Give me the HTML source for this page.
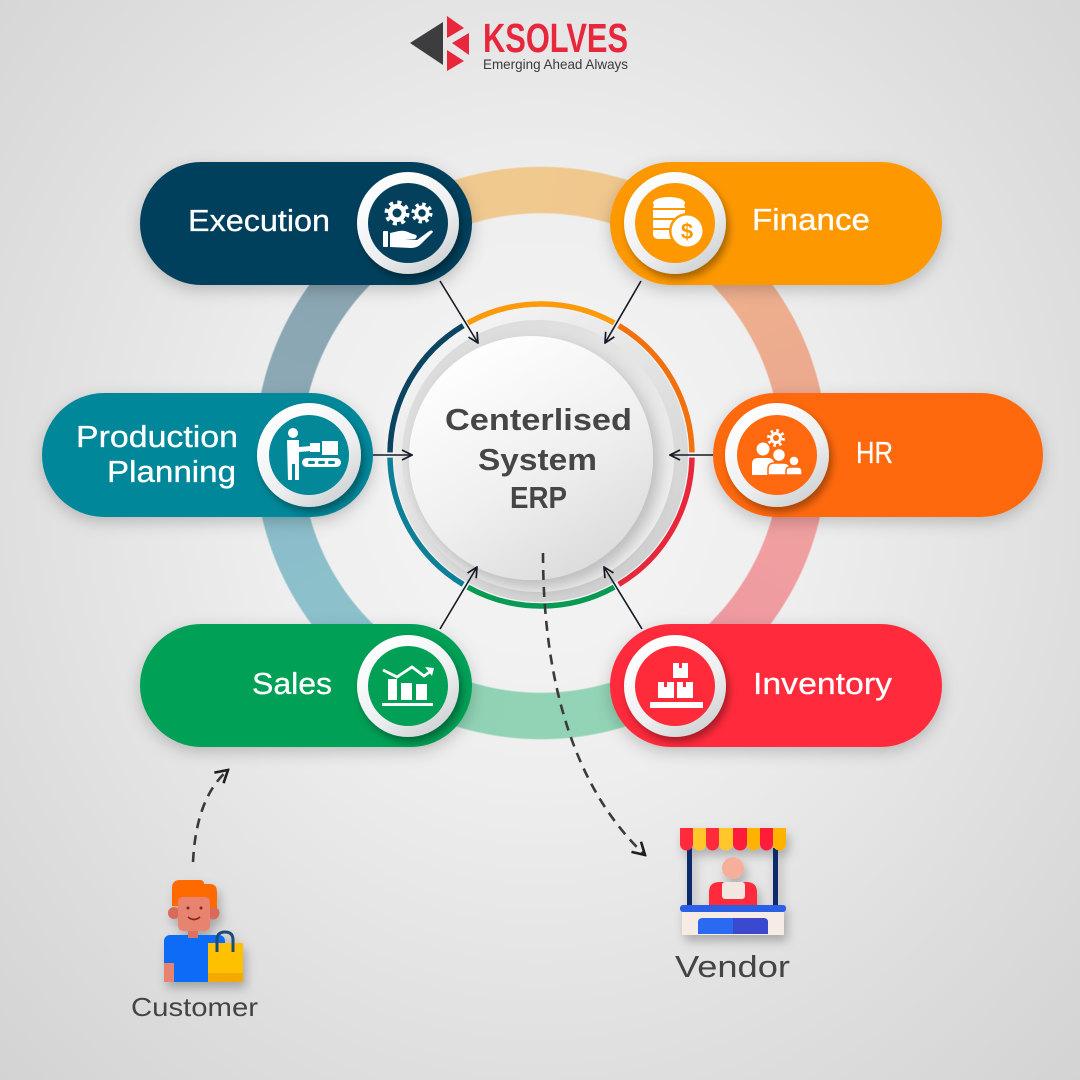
<!DOCTYPE html>
<html><head><meta charset="utf-8">
<style>
html,body{margin:0;padding:0;}
body{width:1080px;height:1080px;overflow:hidden;position:relative;
background:radial-gradient(ellipse at 50% 45%, #f6f6f6 0%, #eeeeee 35%, #dedede 72%, #d3d3d3 100%);
font-family:"Liberation Sans",sans-serif;}
#bigring{position:absolute;left:254px;top:166px;width:574px;height:574px;border-radius:50%;
background:conic-gradient(from 0deg, #f0c98f 0deg, #f0c68e 22deg, #eeb38e 40deg, #eca98e 75deg, #f0a09f 105deg, #ee98a0 140deg, #94d4b6 160deg, #90d2b4 200deg, #8cc3cd 220deg, #8bbdc9 255deg, #8ca8b5 285deg, #8aa4b1 320deg, #f0c98f 340deg);
-webkit-mask:radial-gradient(circle closest-side, transparent 239px, #000 240.5px, #000 285.5px, transparent 287px);
mask:radial-gradient(circle closest-side, transparent 239px, #000 240.5px, #000 285.5px, transparent 287px);}
svg{position:absolute;left:0;top:0;}
</style></head>
<body>
<div id="bigring"></div>
<svg width="1080" height="1080" viewBox="0 0 1080 1080" xmlns="http://www.w3.org/2000/svg">
<defs>
<filter id="psh" x="-20%" y="-30%" width="140%" height="170%"><feDropShadow dx="0" dy="5" stdDeviation="8" flood-color="#000" flood-opacity="0.2"/></filter>
<filter id="ish" x="-30%" y="-30%" width="170%" height="170%"><feDropShadow dx="3" dy="5" stdDeviation="4" flood-color="#000" flood-opacity="0.35"/></filter>
<filter id="dsh" x="-20%" y="-20%" width="150%" height="150%"><feDropShadow dx="6" dy="8" stdDeviation="8" flood-color="#000" flood-opacity="0.22"/></filter>
<filter id="fsh" x="-30%" y="-30%" width="170%" height="170%"><feDropShadow dx="3" dy="6" stdDeviation="5" flood-color="#000" flood-opacity="0.25"/></filter>
<linearGradient id="wring" x1="0.2" y1="0.1" x2="0.8" y2="0.95"><stop offset="0" stop-color="#ffffff"/><stop offset="0.6" stop-color="#eceeef"/><stop offset="1" stop-color="#cfd2d4"/></linearGradient>
<linearGradient id="halo" x1="0.2" y1="0.1" x2="0.8" y2="0.95"><stop offset="0" stop-color="#f3f3f3"/><stop offset="1" stop-color="#cfcfcf"/></linearGradient>
<linearGradient id="halo2" x1="0.2" y1="0.1" x2="0.8" y2="0.95"><stop offset="0" stop-color="#dcdcdc"/><stop offset="1" stop-color="#f2f2f2"/></linearGradient>
<linearGradient id="disc" x1="0.25" y1="0.1" x2="0.75" y2="0.95"><stop offset="0" stop-color="#fdfdfd"/><stop offset="0.55" stop-color="#efefef"/><stop offset="1" stop-color="#dcdcdc"/></linearGradient>
<marker id="ah" viewBox="0 0 12 12" refX="11" refY="6" markerWidth="12" markerHeight="12" orient="auto" markerUnits="userSpaceOnUse"><path d="M1,1 L11,6 L1,11" fill="none" stroke="#151b26" stroke-width="1.7"/></marker>
<marker id="dh" viewBox="0 0 16 16" refX="14" refY="8" markerWidth="16" markerHeight="16" orient="auto" markerUnits="userSpaceOnUse"><path d="M2,1 L14,8 L2,15" fill="none" stroke="#1e1e1e" stroke-width="2.6"/></marker>
</defs>

<!-- center halo & disc -->
<circle cx="541" cy="455" r="147" fill="url(#halo)"/>
<circle cx="538" cy="456" r="136" fill="url(#halo2)"/>
<circle cx="531" cy="458" r="122" fill="url(#disc)" filter="url(#dsh)"/>

<!-- colored ring arcs -->
<g fill="none" stroke-width="5.5">
<path d="M467.8,322.9 A151,151 0 0 1 614.2,322.9" stroke="#fb9a0a"/>
<path d="M618.8,325.6 A151,151 0 0 1 692,452.4" stroke="#f3700f"/>
<path d="M692,457.6 A151,151 0 0 1 618.8,584.4" stroke="#e8283a"/>
<path d="M614.2,587.1 A151,151 0 0 1 467.8,587.1" stroke="#089a52"/>
<path d="M463.2,584.4 A151,151 0 0 1 390,457.6" stroke="#0d7f96"/>
<path d="M390,452.4 A151,151 0 0 1 463.2,325.6" stroke="#0a4461"/>
</g>

<!-- center text -->
<g font-family="'Liberation Sans',sans-serif" font-weight="bold" font-size="31" fill="#464646">
<text x="445" y="430" textLength="187" lengthAdjust="spacingAndGlyphs">Centerlised</text>
<text x="478" y="470" textLength="119" lengthAdjust="spacingAndGlyphs">System</text>
<text x="510" y="508" textLength="57" lengthAdjust="spacingAndGlyphs">ERP</text>
</g>

<!-- black arrows -->
<g stroke="#151b26" stroke-width="1.6" fill="none" marker-end="url(#ah)">
<line x1="440" y1="281" x2="478" y2="343"/>
<line x1="641" y1="281" x2="605" y2="343"/>
<line x1="373" y1="455" x2="412" y2="455"/>
<line x1="713" y1="455" x2="670" y2="455"/>
<line x1="440" y1="629" x2="477" y2="567"/>
<line x1="642" y1="629" x2="604" y2="567"/>
</g>

<!-- dashed connectors -->
<g stroke="#3a3a3a" stroke-width="2.6" fill="none" stroke-dasharray="10 7">
<path d="M543,553 C543,660 565,780 645,855" marker-end="url(#dh)"/>
<path d="M193,862 C195,822 205,790 228,770" marker-end="url(#dh)"/>
</g>

<!-- pills -->
<g filter="url(#psh)">
<rect x="140" y="162" width="332" height="123" rx="61.5" fill="#04405b"/>
<rect x="610" y="162" width="332" height="123" rx="61.5" fill="#fd9800"/>
<rect x="42" y="393" width="331" height="124" rx="62" fill="#03889a"/>
<rect x="713" y="393" width="330" height="124" rx="62" fill="#ff690f"/>
<rect x="140" y="624" width="332" height="123" rx="61.5" fill="#02a057"/>
<rect x="610" y="624" width="332" height="123" rx="61.5" fill="#ff2b3a"/>
</g>

<!-- icon rings -->
<g filter="url(#ish)">
<circle cx="408" cy="223" r="51" fill="url(#wring)"/>
<circle cx="675" cy="223" r="51" fill="url(#wring)"/>
<circle cx="309" cy="455" r="52" fill="url(#wring)"/>
<circle cx="777" cy="455" r="52" fill="url(#wring)"/>
<circle cx="408" cy="686" r="51" fill="url(#wring)"/>
<circle cx="675" cy="686" r="51" fill="url(#wring)"/>
</g>
<circle cx="408" cy="223" r="40" fill="#04405b"/>
<circle cx="675" cy="223" r="40" fill="#fd9800"/>
<circle cx="309" cy="455" r="40" fill="#03889a"/>
<circle cx="777" cy="455" r="40" fill="#ff690f"/>
<circle cx="408" cy="686" r="40" fill="#02a057"/>
<circle cx="675" cy="686" r="40" fill="#ff2b3a"/>

<!-- Execution icon -->
<g fill="#fff">
<circle cx="397" cy="213" r="9"/>
<circle cx="397" cy="213" r="10.5" fill="none" stroke="#fff" stroke-width="4" stroke-dasharray="4 4.25"/>
<circle cx="397" cy="213" r="4.5" fill="#04405b"/>
<circle cx="422" cy="213" r="7.5"/>
<circle cx="422" cy="213" r="8.8" fill="none" stroke="#fff" stroke-width="3.5" stroke-dasharray="3.4 3.5"/>
<circle cx="422" cy="213" r="3.8" fill="#04405b"/>
<rect x="383" y="231" width="5" height="16" rx="1"/>
<path d="M390,233 L399,231 Q405,230 410,233 L416,235 Q418,237 415,239 L405,239 L417,240 L428,232 Q432,229 433,232 L421,244 Q417,248 411,248 L390,247 Z"/>
</g>

<!-- Finance icon -->
<g>
<rect x="653" y="203" width="32" height="36" rx="5" fill="#fff"/>
<ellipse cx="669" cy="203" rx="16" ry="6" fill="#fff"/>
<g stroke="#fd9800" stroke-width="2"><line x1="653" y1="209" x2="685" y2="209"/><line x1="653" y1="219" x2="685" y2="219"/><line x1="653" y1="229" x2="685" y2="229"/></g>
<circle cx="687" cy="231" r="18" fill="#fd9800"/>
<circle cx="687" cy="231" r="15.5" fill="#fff"/>
<text x="687" y="239" font-family="'Liberation Sans',sans-serif" font-weight="bold" font-size="22" fill="#fd9800" text-anchor="middle">$</text>
</g>

<!-- Production icon -->
<g fill="#fff">
<circle cx="293" cy="433" r="5"/>
<path d="M287,440 L299,440 L299,447 L311,446 L311,451 L299,452 L299,480 L295,480 L295,464 L292,464 L292,480 L288,480 Z"/>
<rect x="310" y="443" width="10" height="9"/>
<rect x="322" y="441" width="16" height="14"/>
<rect x="302" y="458" width="39" height="9" rx="4.5"/>
<g fill="#03889a"><rect x="308" y="461" width="7" height="3" rx="1.5"/><rect x="318" y="461" width="7" height="3" rx="1.5"/><rect x="328" y="461" width="7" height="3" rx="1.5"/></g>
</g>

<!-- HR icon -->
<g fill="#fff">
<circle cx="776" cy="438" r="6"/>
<circle cx="776" cy="438" r="7.5" fill="none" stroke="#fff" stroke-width="3" stroke-dasharray="2.6 3.3"/>
<circle cx="776" cy="438" r="3" fill="#ff690f"/>
<circle cx="763" cy="449" r="6.5"/>
<path d="M752,475 L752,464 Q752,458 758,458 L768,458 Q774,458 774,464 L774,475 Z"/>
<circle cx="779" cy="455" r="6.5" stroke="#ff690f" stroke-width="1.5"/>
<path d="M768,475 L768,469 Q768,463 774,463 L784,463 Q790,463 790,469 L790,475 Z" stroke="#ff690f" stroke-width="1.5"/>
<circle cx="794" cy="461" r="5" stroke="#ff690f" stroke-width="1.5"/>
<path d="M786,475 L786,471 Q786,467 790,467 L798,467 Q802,467 802,471 L802,475 Z" stroke="#ff690f" stroke-width="1.5"/>
</g>

<!-- Sales icon -->
<g fill="#fff">
<rect x="388" y="679" width="9" height="21"/>
<rect x="401" y="683" width="11" height="17"/>
<rect x="416" y="684" width="11" height="16"/>
<rect x="382" y="703" width="51" height="3"/>
<polyline points="383,670 397,677 412,667 424,676 431,671" fill="none" stroke="#fff" stroke-width="2.8"/>
<path d="M425,667 L434,668 L432,676 Z"/>
</g>

<!-- Inventory icon -->
<g fill="#fff">
<rect x="673" y="663" width="15" height="15"/>
<rect x="658" y="682" width="16" height="16"/>
<rect x="677" y="682" width="16" height="16"/>
<rect x="650" y="702" width="53" height="6"/>
<g fill="#ff2b3a"><rect x="679" y="663" width="3" height="5"/><rect x="664" y="682" width="3" height="5"/><rect x="683" y="682" width="3" height="5"/></g>
</g>

<!-- pill text -->
<g font-family="'Liberation Sans',sans-serif" font-size="31" fill="#fff" stroke="#fff" stroke-width="0.3">
<text x="188" y="231" textLength="142" lengthAdjust="spacingAndGlyphs">Execution</text>
<text x="752" y="230" textLength="118" lengthAdjust="spacingAndGlyphs">Finance</text>
<text x="76" y="447" textLength="162" lengthAdjust="spacingAndGlyphs">Production</text>
<text x="107" y="482" textLength="129" lengthAdjust="spacingAndGlyphs">Planning</text>
<text x="856" y="463" textLength="37" lengthAdjust="spacingAndGlyphs">HR</text>
<text x="252" y="694" textLength="80" lengthAdjust="spacingAndGlyphs">Sales</text>
<text x="753" y="694" textLength="139" lengthAdjust="spacingAndGlyphs">Inventory</text>
</g>

<!-- logo -->
<g>
<polygon points="410,43 443,22 443,65" fill="#3d3d3f"/>
<polygon points="447,16 464,28 447,38" fill="#e8273c"/>
<polygon points="452,43 469,33 469,55" fill="#e8273c"/>
<polygon points="447,50 464,61 447,71" fill="#e8273c"/>
<text x="483" y="52" font-family="'Liberation Sans',sans-serif" font-weight="bold" font-size="41" fill="#e8273c" textLength="145" lengthAdjust="spacingAndGlyphs">KSOLVES</text>
<text x="483" y="69" font-family="'Liberation Sans',sans-serif" font-size="14" fill="#3a3a3a" textLength="145" lengthAdjust="spacingAndGlyphs">Emerging Ahead Always</text>
</g>

<!-- Customer -->
<g filter="url(#fsh)">
<rect x="164" y="935" width="61" height="47" rx="6" fill="#0a6cf5"/>
<rect x="164" y="963" width="10" height="19" fill="#e8836f"/>
<rect x="188" y="926" width="10" height="12" fill="#d97260"/>
<circle cx="174" cy="913" r="6" fill="#d96a5a"/>
<circle cx="213" cy="913" r="6.5" fill="#d96a5a"/>
<path d="M172,906 L172,888 Q172,880 180,880 L200,880 Q204,880 204,884 L210,884 Q217,884 217,892 L217,908 Z" fill="#ff6a00"/>
<rect x="178" y="897" width="32" height="34" rx="5" fill="#e8836f"/>
<circle cx="188" cy="908" r="1.5" fill="#7a2a1e"/>
<circle cx="201" cy="908" r="1.5" fill="#7a2a1e"/>
<path d="M188,917 Q194,922 200,917" fill="none" stroke="#7a2a1e" stroke-width="1.6"/>
<rect x="208" y="943" width="35" height="39" fill="#ffc000"/>
<rect x="208" y="973" width="35" height="9" fill="#f2a900"/>
<path d="M217,952 L217,940 Q217,932 225,932 Q233,932 233,940 L233,952" fill="none" stroke="#1d4c7a" stroke-width="3"/>
</g>
<text x="131" y="1016" font-family="'Liberation Sans',sans-serif" font-size="26" fill="#444" textLength="127" lengthAdjust="spacingAndGlyphs">Customer</text>

<!-- Vendor -->
<g filter="url(#fsh)">
<rect x="682" y="911" width="102" height="24" fill="#f7ebe6"/>
<path d="M698,934 L698,922 Q698,918 703,918 L763,918 Q768,918 768,922 L768,934 Z" fill="#2a6bf0"/>
<path d="M733,934 L733,918 L763,918 Q768,918 768,922 L768,934 Z" fill="#3a49cf"/>
<rect x="687" y="848" width="5" height="60" fill="#0b2a6b"/>
<rect x="773" y="848" width="5" height="60" fill="#0b2a6b"/>
<path d="M709,907 L709,892 Q709,882 720,882 L746,882 Q757,882 757,892 L757,907 Z" fill="#ff2a3a"/>
<rect x="722" y="882" width="23" height="17" rx="3" fill="#f3e6e0"/>
<circle cx="733" cy="868" r="11" fill="#f5b09c"/>
<rect x="680" y="905" width="106" height="7" rx="3" fill="#2a5ee6"/>
<g>
<path d="M680,828 h13 v16 a6.5,6.5 0 0 1 -13,0 z" fill="#ff2a3a"/>
<path d="M693,828 h13 v16 a6.5,6.5 0 0 1 -13,0 z" fill="#ffc72c"/>
<path d="M706,828 h13 v16 a6.5,6.5 0 0 1 -13,0 z" fill="#ff2a3a"/>
<path d="M719,828 h14 v16 a7,6.5 0 0 1 -14,0 z" fill="#ffc72c"/>
<path d="M733,828 h14 v16 a7,6.5 0 0 1 -14,0 z" fill="#ff1f3a"/>
<path d="M747,828 h13 v16 a6.5,6.5 0 0 1 -13,0 z" fill="#ffb300"/>
<path d="M760,828 h13 v16 a6.5,6.5 0 0 1 -13,0 z" fill="#ff1f3a"/>
<path d="M773,828 h13 v16 a6.5,6.5 0 0 1 -13,0 z" fill="#ffb300"/>
</g>
</g>
<text x="675" y="977" font-family="'Liberation Sans',sans-serif" font-size="31" fill="#444" textLength="115" lengthAdjust="spacingAndGlyphs">Vendor</text>
</svg>
</body></html>
